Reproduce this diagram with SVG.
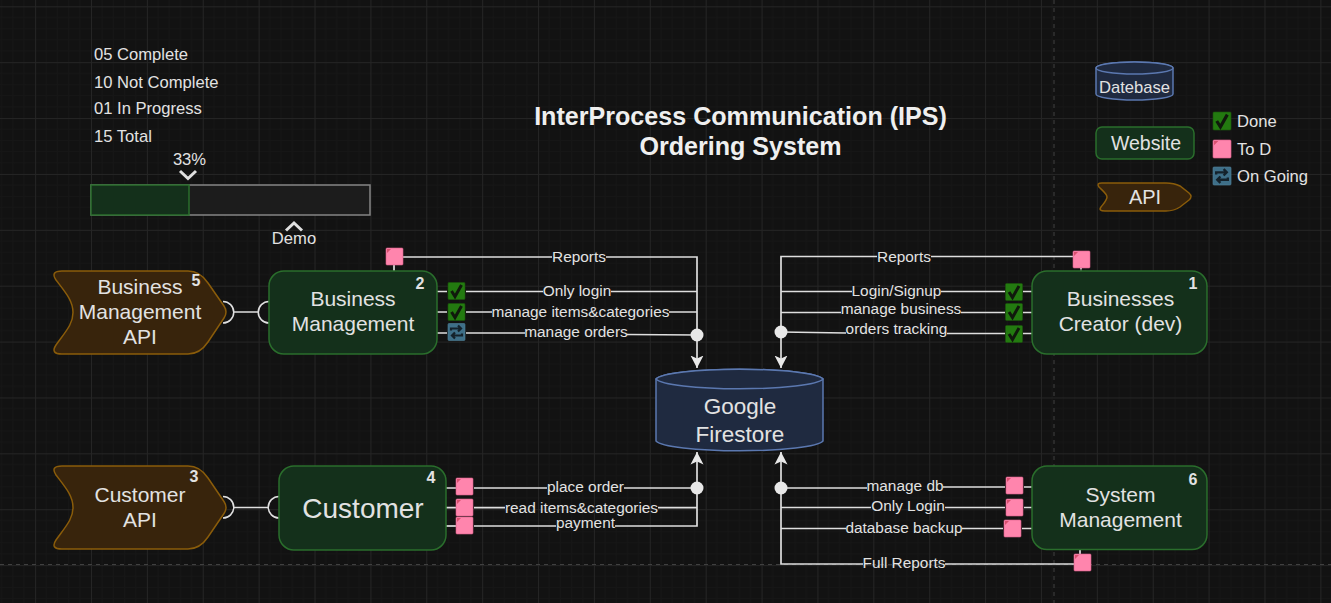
<svg xmlns="http://www.w3.org/2000/svg" width="1331" height="603" viewBox="0 0 1331 603">
<style>
text{font-family:"Liberation Sans",Arial,sans-serif;fill:#e2e2e2}
.t{text-anchor:middle}
.n{font-size:21px;text-anchor:middle}
.l{font-size:15.4px;text-anchor:middle}
.i{font-size:16.6px}
.b{font-size:16px;font-weight:700;text-anchor:middle}
.h{font-size:25.1px;font-weight:700;text-anchor:middle;fill:#efefef}
.web{fill:#14301b;stroke:#2a6e2c;stroke-width:1.500}
.api{fill:#38240c;stroke:#8a5c0a;stroke-width:1.500}
.db{fill:#1f2a40;stroke:#5b78b0;stroke-width:1.500}
.c{fill:none;stroke:#dedede;stroke-width:1.700}
.a{marker-end:url(#arr)}
.dot{fill:#e8e8e8}
.arc{fill:none;stroke:#e0e0e0;stroke-width:1.500}
.ax{stroke:#404040;stroke-width:1;stroke-dasharray:4 4}
.todo{fill:#ff85ad;stroke:#d9608a;stroke-width:.6}
.done{fill:#237a10;stroke:#1b560c;stroke-width:.6}
.go{fill:#3e6f88;stroke:#4f8199;stroke-width:.6}
.mark{fill:none;stroke:#10190c;stroke-width:3}
.sym{fill:none;stroke:#14222b;stroke-width:2.200}
.chev{fill:none;stroke:#e0e0e0;stroke-width:3}
</style>
<defs>
<pattern id="g" width="55.88" height="55.88" patternUnits="userSpaceOnUse" x="35.12" y="6.3">
<path d="M11.18 0V55.88M22.35 0V55.88M33.53 0V55.88M44.7 0V55.88M0 11.18H55.88M0 22.35H55.88M0 33.53H55.88M0 44.7H55.88" fill="none" stroke="#161616" stroke-width="1"/>
<path d="M.5 0V55.88M0 .5H55.88" fill="none" stroke="#252525" stroke-width="1"/>
</pattern>
<marker id="arr" markerUnits="userSpaceOnUse" markerWidth="14" markerHeight="14" refX="12.5" refY="7" orient="auto" viewBox="0 0 14 14">
<path d="M12.500 7L0 .5L3 7L0 13.500Z" fill="#e8e8e8"/>
</marker>
<g id="todo"><rect class="todo" width="17" height="17" rx="1"/><path d="M1 5V1H5Z" fill="#d9506f"/></g>
<g id="done"><rect class="done" width="17" height="17" rx="1"/><path class="mark" d="M3.500 8.500L7 14L13.500 2.500"/></g>
<g id="going"><rect class="go" width="17" height="17" rx="1"/><path class="sym" d="M3 7V5H12M10 2L13 5L10 8M14 10V12H5M7 9L4 12L7 15"/></g>
</defs>
<rect width="1331" height="603" fill="#121212"/>
<rect width="1331" height="603" fill="url(#g)"/>
<path class="ax" d="M1054 0V603M0 564.500H1331"/>

<g id="connectors">
<path class="c a" d="M403 257H552M606 257H697V368"/>
<path class="c" d="M437 291.500H447M466 291.500H543M611 291.500H697"/>
<path class="c" d="M437 312H447M466 312H492M669 312H697"/>
<path class="c" d="M437 333H447M466 333H525M627 334.500L697 335"/>
<path class="c" d="M394 265V271"/>
<path class="c a" d="M1073 256.500H931M877 256.500H781V368"/>
<path class="c" d="M1032 291.500H1023M1005 291.500H941M852 291.500H781"/>
<path class="c" d="M1032 312.500H1023M1005 312.500H961M841 312.500H781"/>
<path class="c" d="M1032 333.500H1023M1005 333.500H947M846 333L781 332"/>
<path class="c" d="M1081 268V271" stroke-dasharray="1.500 1"/>
<path class="c a" d="M474 526H556M615 526H697V452"/>
<path class="c" d="M446 488H456M474 488H547M624 488H697"/>
<path class="c" d="M446 507.700H456M474 507.700H505M658 507.700H697"/>
<path class="c" d="M446 526H456"/>
<path class="c a" d="M1074 564H945M863 564H781V452"/>
<path class="c" d="M1032 487H1024M1005 487H943M867 488H781"/>
<path class="c" d="M1032 507.500H1024M1005 507.500H945M871 507.500H781"/>
<path class="c" d="M1032 528.500H1022M1003 528.500H962M846 528.500H781"/>
<path class="c" d="M1080 549V554"/>
<path class="arc" d="M223 301.500A10.500 10.500 0 0 1 223 323M234 312H258M269 301.500A10.500 10.500 0 0 0 269 323"/>
<path class="arc" d="M223 496.500A10.500 10.500 0 0 1 223 518M234 507.500H268M279 496.500A10.500 10.500 0 0 0 279 518"/>
<circle class="dot" cx="697" cy="335" r="6.500"/>
<circle class="dot" cx="781" cy="332" r="6.500"/>
<circle class="dot" cx="697" cy="488" r="6.500"/>
<circle class="dot" cx="781" cy="488" r="6.500"/>
<text class="l" x="579" y="262">Reports</text>
<text class="l" x="577" y="296">Only login</text>
<text class="l" x="580.500" y="317">manage items&amp;categories</text>
<text class="l" x="576" y="337">manage orders</text>
<text class="l" x="904" y="262">Reports</text>
<text class="l" x="896.500" y="296">Login/Signup</text>
<text class="l" x="901" y="314">manage business</text>
<text class="l" x="896.500" y="334">orders tracking</text>
<text class="l" x="585.500" y="492">place order</text>
<text class="l" x="581.500" y="513">read items&amp;categories</text>
<text class="l" x="585.500" y="528">payment</text>
<text class="l" x="905" y="491">manage db</text>
<text class="l" x="908" y="511">Only Login</text>
<text class="l" x="904" y="533">database backup</text>
<text class="l" x="904" y="568">Full Reports</text>
</g>

<g id="status-icons">
<use href="#todo" x="386" y="248"/>
<use href="#done" x="448" y="282.500"/>
<use href="#done" x="448" y="303.500"/>
<use href="#going" x="448" y="323.500"/>
<use href="#todo" x="1073" y="251"/>
<use href="#done" x="1005.500" y="283.500"/>
<use href="#done" x="1005.500" y="303.500"/>
<use href="#done" x="1005.500" y="325.500"/>
<use href="#todo" x="456" y="478"/>
<use href="#todo" x="456" y="499"/>
<use href="#todo" x="456" y="517"/>
<use href="#todo" x="1006" y="477"/>
<use href="#todo" x="1006" y="499"/>
<use href="#todo" x="1004" y="520"/>
<use href="#todo" x="1074" y="554"/>
</g>

<g id="node-5">
<path class="api" d="M62 271H188Q200 271 208 283L224 306Q228 312 224 318L208 342Q200 354 188 354H62Q50 354 56 345C66 331 73 324 73 312.500C73 301 66 293 56 280Q50 271 62 271Z"/>
<text class="n" x="140" y="294">Business</text><text class="n" x="140" y="319">Management</text><text class="n" x="140" y="344">API</text>
<text class="b" x="196" y="286">5</text>
</g>
<g id="node-2">
<rect class="web" x="269" y="271" width="168" height="83" rx="15"/>
<text class="n" x="353" y="306">Business</text><text class="n" x="353" y="331">Management</text>
<text class="b" x="420" y="289">2</text>
</g>
<g id="node-1">
<rect class="web" x="1032" y="271" width="175" height="83" rx="15"/>
<text class="n" x="1120.500" y="306">Businesses</text><text class="n" x="1120.500" y="331">Creator (dev)</text>
<text class="b" x="1193" y="289">1</text>
</g>
<g id="node-3">
<path class="api" d="M62 466H188Q200 466 208 478L224 501.500Q228 507.500 224 513.500L208 537Q200 549 188 549H62Q50 549 56 540C66 526 73 519 73 507.500C73 496 66 488 56 475Q50 466 62 466Z"/>
<text class="n" x="140" y="502">Customer</text><text class="n" x="140" y="527">API</text>
<text class="b" x="194" y="482">3</text>
</g>
<g id="node-4">
<rect class="web" x="279" y="466" width="167" height="84" rx="15"/>
<text class="t" x="363" y="518" font-size="28">Customer</text>
<text class="b" x="431" y="483">4</text>
</g>
<g id="node-6">
<rect class="web" x="1032" y="466" width="175" height="83.500" rx="15"/>
<text class="n" x="1120.500" y="502">System</text><text class="n" x="1120.500" y="527">Management</text>
<text class="b" x="1193" y="485">6</text>
</g>
<g id="node-firestore">
<path class="db" d="M656 379A84 11 0 0 1 823 379V441A84 11 0 0 1 656 441Z"/>
<path class="db" d="M656 379A84 11 0 0 0 823 379A84 11 0 0 0 656 379Z"/>
<text class="t" x="740" y="414" font-size="22.500">Google</text><text class="t" x="740" y="442" font-size="22.500">Firestore</text>
</g>

<g id="title"><text class="h" x="740.500" y="125">InterProcess Communication (IPS)</text><text class="h" x="740.500" y="155">Ordering System</text></g>

<g id="stats">
<text class="i" x="94" y="60">05 Complete</text>
<text class="i" x="94" y="88">10 Not Complete</text>
<text class="i" x="94" y="114">01 In Progress</text>
<text class="i" x="94" y="142">15 Total</text>
</g>
<g id="progress">
<rect x="91" y="185" width="279" height="30" fill="#1c1c1c" stroke="#858585" stroke-width="1.500"/>
<rect class="web" x="91" y="185" width="98" height="30"/>
<text class="i t" x="189.500" y="165">33%</text>
<path class="chev" d="M180 171L188 178.500L196 171"/>
<path class="chev" d="M286 230.500L294 223L302 230.500"/>
<text class="i t" x="294" y="244">Demo</text>
</g>

<g id="legend-database">
<path class="db" d="M1096 68A38.500 6 0 0 1 1173 68V94A38.500 6 0 0 1 1096 94Z"/>
<path class="db" d="M1096 68A38.500 6 0 0 0 1173 68A38.500 6 0 0 0 1096 68Z"/>
<text class="i t" x="1134.500" y="93">Datebase</text>
</g>
<g id="legend-website">
<rect class="web" x="1096" y="127" width="98" height="32" rx="6"/>
<text class="t" x="1146" y="150" font-size="19.500">Website</text>
</g>
<g id="legend-api">
<path class="api" d="M1102 183H1166Q1174 183 1180 186L1189 193Q1193 196.500 1189 200L1180 207Q1174 211 1166 211H1105Q1098 211 1101 207C1105 202 1107 200 1107 197C1107 194 1103 191 1099 187Q1096 183 1102 183Z"/>
<text class="t" x="1145" y="204" font-size="20">API</text>
</g>
<g id="legend-status">
<g transform="translate(1213 112) scale(1.060)"><use href="#done"/></g>
<g transform="translate(1213 140) scale(1.060)"><use href="#todo"/></g>
<g transform="translate(1213 167) scale(1.060)"><use href="#going"/></g>
<text class="i" x="1237" y="127">Done</text>
<text class="i" x="1237" y="155">To D</text>
<text class="i" x="1237" y="182">On Going</text>
</g>
</svg>
